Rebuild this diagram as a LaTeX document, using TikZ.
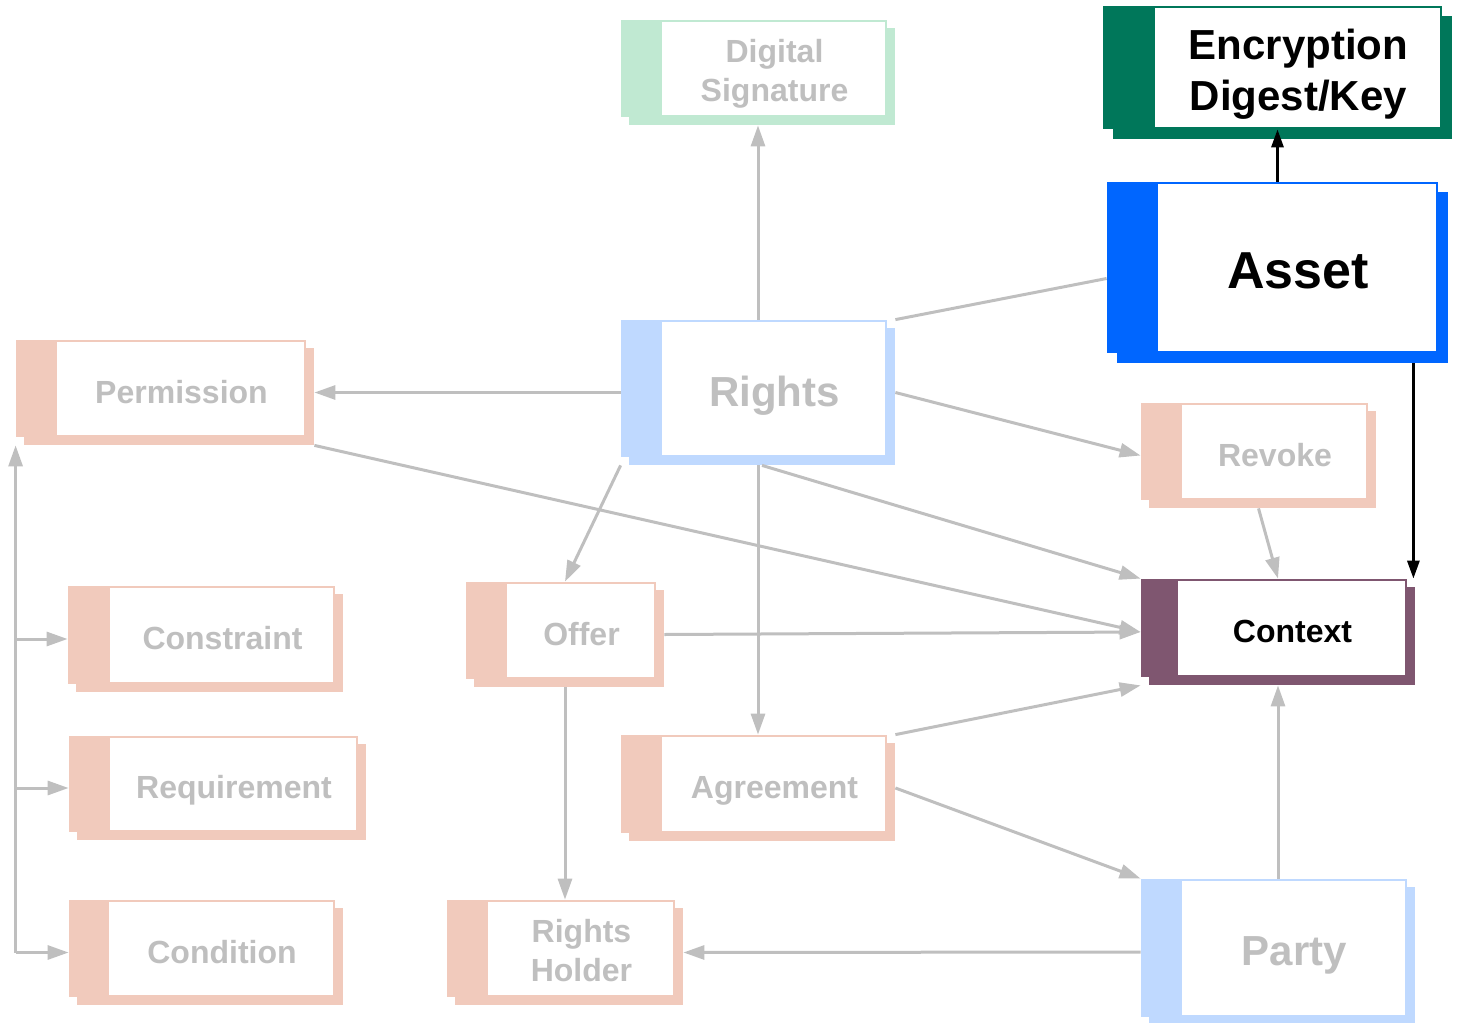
\documentclass[tikz,border=0pt]{standalone}
\usepackage{fontspec}
\setmainfont{Liberation Sans}
\usetikzlibrary{arrows.meta,fit,calc}
\definecolor{peach}{RGB}{241,202,188}
\definecolor{lblue}{RGB}{191,217,255}
\definecolor{mint}{RGB}{192,233,210}
\definecolor{dgreen}{RGB}{0,119,90}
\definecolor{vblue}{RGB}{0,102,255}
\definecolor{plum}{RGB}{127,86,112}
\definecolor{lg}{RGB}{191,191,191}
\tikzset{
  nf/.style={font=\fontsize{16}{19.5}\selectfont\bfseries},
  bf/.style={font=\fontsize{21}{25.5}\selectfont\bfseries},
  hf/.style={font=\fontsize{26}{31}\selectfont\bfseries},
  gt/.style={text=lg, align=center, inner sep=0pt},
  kt/.style={text=black, align=center, inner sep=0pt},
  one/.style={text depth=0pt, yshift=-1.5pt},
  conn/.style={draw=lg, line width=1.5pt, -{Triangle[length=10.5pt,width=7pt]}},
  plainln/.style={draw=lg, line width=1.5pt},
  karr/.style={draw=black, line width=1.5pt, -{Triangle[length=9pt,width=6pt]}},
}
% #1 text style, #2 name, #3 x0, #4 y0, #5 x1, #6 y1, #7 band, #8 colour, #9 text
\def\shoff{8}
\newcommand\dbox[9][gt,nf]{%
  \fill[#8] ({#3+\shoff},{#4+\shoff}) rectangle ({#5+\shoff},{#6+\shoff});
  \fill[#8] (#3,#4) rectangle (#5,#6);
  \fill[white] ({#3+#7},{#4+2}) rectangle ({#5-2},{#6-2});
  \path (#3,#4) coordinate (#2-a) ({#5+\shoff},{#6+\shoff}) coordinate (#2-b);
  \node[fit=(#2-a)(#2-b), inner sep=0pt] (#2) {};
  \node[#1] (#2-t) at ({(#3+#7+#5)/2},{(#4+#6)/2}) {#9};
}
\begin{document}
\begin{tikzpicture}[x=0.5pt,y=-0.5pt]
\useasboundingbox (0,0) rectangle (1458,1023);
\def\shoff{10}
\dbox[kt,bf,yshift=-3.5pt]{enc}{1103}{6}{1442}{129}{52}{dgreen}{Encryption\\Digest/Key}
\dbox[kt,hf,one]{asset}{1107}{182}{1438}{353}{51}{vblue}{Asset}
\def\shoff{8}
\dbox[gt,nf,yshift=-2.5pt]{dsig}{621}{20}{887}{117}{41}{mint}{Digital\\Signature}
\dbox[gt,bf,one]{rights}{621}{320}{887}{457}{41}{lblue}{Rights}
\dbox[gt,nf,one]{perm}{16}{340}{306}{437}{41}{peach}{Permission}
\dbox[gt,nf,one]{revoke}{1141}{403}{1368}{500}{41}{peach}{Revoke}
\dbox[kt,nf,one]{context}{1141}{579}{1407}{677}{37}{plum}{Context}
\dbox[gt,nf,one]{constraint}{68}{586}{335}{684}{42}{peach}{Constraint}
\dbox[gt,nf,one]{offer}{466}{582}{656}{679}{41}{peach}{Offer}
\dbox[gt,nf,one]{requirement}{69}{736}{358}{832}{41}{peach}{Requirement}
\dbox[gt,nf,one]{agreement}{621}{735}{887}{833}{41}{peach}{Agreement}
\dbox[gt,nf,one]{condition}{69}{900}{335}{997}{40}{peach}{Condition}
\dbox[gt,nf,yshift=-1pt]{rholder}{447}{900}{675}{997}{41}{peach}{Rights\\Holder}
\dbox[gt,bf,one]{party}{1141}{879}{1407}{1017}{41}{lblue}{Party}

% grey connectors
\draw[conn] (rights.north) -- (dsig.south);
\draw[conn] (rights.west) -- (perm.east);
\draw[conn] (rights.east) -- (revoke.west);
\draw[plainln] ([yshift=-3pt]asset.west) -- (rights.north east);
\draw[conn] (rights.south) -- (agreement.north);
\draw[conn] ([xshift=2pt]rights.south) -- (context.north west);
\draw[conn] (rights.south west) -- (offer.north);
\draw[conn] (perm.south east) -- (context.west);
\draw[conn] (offer.east) -- (context.west);
\draw[conn] (offer.south) -- (rholder.north);
\draw[conn] (agreement.north east) -- (context.south west);
\draw[conn] (agreement.east) -- (party.north west);
\draw[conn] (party.north) -- (context.south);
\draw[conn] (party.west) -- (rholder.east);
\draw[conn] (revoke.south) -- (context.north);

% left bus
\coordinate (busbot) at (perm.south west |- condition.west);
\draw[conn] (busbot) -- (perm.south west);
\draw[conn] (busbot) -- (condition.west);
\draw[conn] (perm.south west |- constraint.west) -- (constraint.west);
\draw[conn] (perm.south west |- requirement.west) -- (requirement.west);

% black connectors
\draw[karr] (asset.north) -- ([yshift=5pt]enc.south);
\draw[karr] ([xshift=-1pt]context.north east |- asset.south) -- ([xshift=-1pt]context.north east);
\end{tikzpicture}
\end{document}
